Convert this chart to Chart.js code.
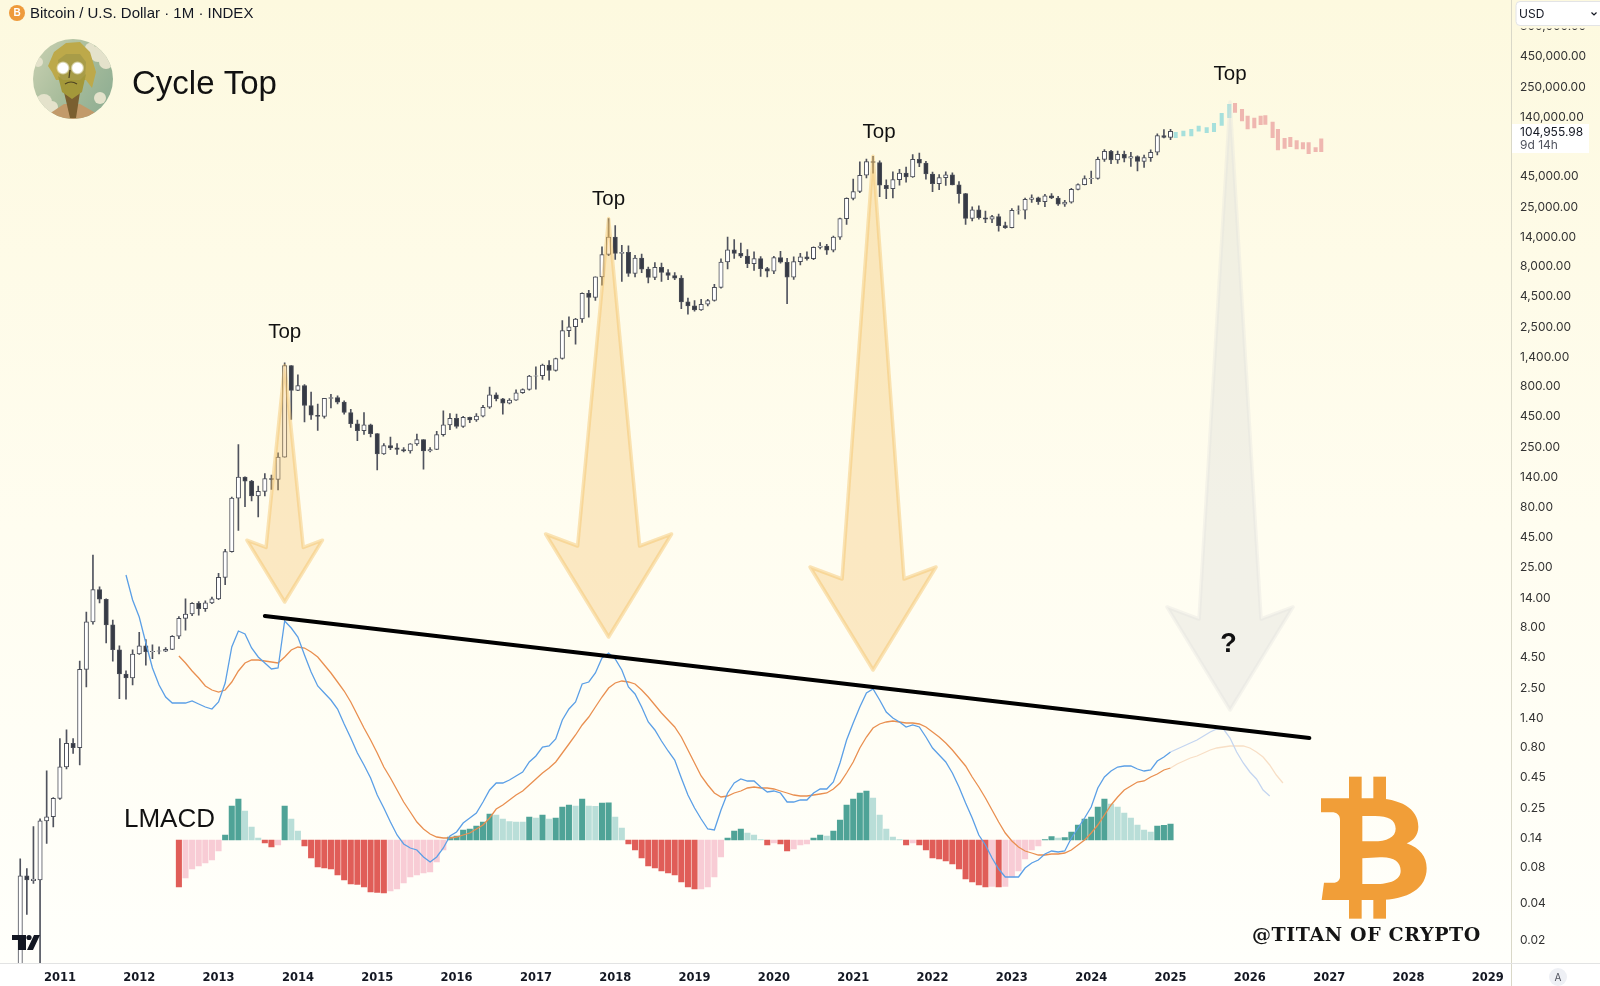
<!DOCTYPE html>
<html><head><meta charset="utf-8">
<style>html,body{margin:0;padding:0;background:#fff;overflow:hidden}canvas{display:block;position:absolute;left:0;top:0}</style>
<script src="https://cdn.jsdelivr.net/npm/chart.js@4/dist/chart.umd.min.js"></script>
</head><body>
<canvas id="c" width="1600" height="986"></canvas>
<script>
// ---- months ----
const firstYear = 2010, firstMonth = 5, monthCount = 228;
const months = [];
for (let i = 0; i < monthCount; i++) {
  const m = firstMonth - 1 + i;
  months.push((firstYear + Math.floor(m / 12)) + '-' + String(m % 12 + 1).padStart(2, '0'));
}
// ---- monthly candles, July 2010 to January 2025 ----
const candleStart = '2010-07';
const opens = [
 .008,.067,.061,.062,.192,.208,
 .296,.54,.85,.78,3.5,8.7,16.1,13.4,8.2,5.1,3.2,2.97,
 4.7,5.5,4.9,4.95,4.95,5.14,6.6,9.3,10.1,12.4,11.2,12.5,
 13.5,20.4,33.4,93,139,129,97,106,135,133,204,1180,
 732,802,549,455,446,628,640,585,480,387,338,378,
 320,217,254,244,236,230,263,285,230,236,314,378,
 430,368,437,416,448,531,673,624,575,608,700,745,
 963,970,1190,1075,1350,2300,2480,2875,4700,4340,6440,9900,
 13800,10100,10300,6900,9240,7490,6380,7730,7010,6620,6300,4000,
 3700,3430,3815,4100,5270,8570,10800,10100,9600,8300,9150,7550,
 7190,9350,8530,6420,8630,9450,9140,11350,11650,10780,13800,19700,
 29000,33100,45200,58800,57700,37300,35000,41500,47100,43800,61300,57000,
 46300,38500,43200,45500,37600,31800,19800,23300,20000,19500,20500,17200,
 16550,23100,23150,28500,29250,27200,30450,29200,26000,27000,34500,37700,
 42300,42600,61200,71300,60700,67500,62700,64600,58950,63300,70200,96400,
 93400];
const highs = [
 .093,.077,.172,.2,.5,.3,
 .93,1.1,.93,4.1,10.5,31.3,17,13.5,9,5.5,3.4,5.1,
 7.1,6.2,5.6,5.4,5.3,6.7,9.6,13.5,12.6,12.8,13,14,
 22,34.9,95,259,140,131,117,149,145,222,1240,1180,
 985,820,710,565,630,680,660,600,510,415,480,385,
 320,265,300,265,245,265,317,285,245,335,495,470,
 465,445,440,470,550,780,700,630,625,740,755,980,
 1150,1215,1295,1360,2790,3000,2920,4750,4980,6450,11450,19700,
 17200,11800,11700,9750,10000,7780,8480,8400,7400,7000,6600,4300,
 4100,4200,4200,5600,9100,13800,13200,12300,10900,10400,9500,7750,
 9580,10500,9200,9480,10100,10400,11450,12450,12050,14100,19900,29300,
 41950,58300,61700,64800,59600,41300,48200,50500,52900,67000,69000,59000,
 47900,45800,48200,47400,40000,31900,24700,25200,22700,21000,21500,18400,
 23900,25200,29200,31000,29800,31400,31800,30200,28000,35200,38400,44700,
 48900,63900,73800,72700,71900,71900,70000,65600,66500,73600,99800,108200,
 109000];
const lows = [
 .004,.032,.058,.008,.125,.171,
 .29,.52,.70,.56,2.5,8.3,12.5,5.8,4.1,2,1.98,2.6,
 4.65,3.8,4.3,4.7,4.9,5.1,6.3,7.4,9.8,9.9,10.6,12.3,
 13.3,17.7,33,50,79,88,65,97,110,109,204,420,
 730,400,420,340,430,525,565,465,360,280,315,300,
 160,215,235,215,225,220,255,162,225,235,305,345,
 355,360,395,405,440,520,600,465,565,605,690,735,
 750,905,890,1060,1330,2050,1780,2700,2980,4100,5500,9700,
 9000,5900,6500,6450,7000,5750,6100,5900,6100,6100,3500,3150,
 3350,3390,3700,4050,5200,7500,9200,9300,7700,7300,6500,6430,
 6850,8400,3850,6150,8100,8900,8980,11000,9900,10400,13200,17600,
 28100,32300,43000,47000,30000,28800,29300,37300,39600,43300,53300,42000,
 33000,34300,37200,37600,26500,17600,18800,19500,18200,18200,15500,16300,
 16500,21400,19600,26900,25800,24800,28900,25400,24900,26500,34100,37600,
 38500,42000,59000,56500,56600,58400,53500,49000,52600,58900,66800,92200,
 89500];
const closes = [
 .067,.062,.063,.192,.208,.296,
 .54,.85,.78,3.5,8.7,16.1,13.4,8.2,5.1,3.2,2.97,4.7,
 5.5,4.9,4.95,5.0,5.14,6.6,9.3,10.1,12.4,11.2,12.5,13.5,
 20.4,33.4,93,139,129,97,106,135,133,204,1180,732,
 802,549,455,446,628,640,585,480,387,338,378,320,
 217,254,244,236,230,263,285,230,236,314,378,430,
 368,437,416,448,531,673,624,575,608,700,745,963,
 970,1190,1075,1350,2300,2480,2875,4700,4340,6440,9900,13800,
 10100,10300,6900,9240,7490,6380,7730,7010,6620,6300,4000,3700,
 3430,3815,4100,5270,8570,10800,10100,9600,8300,9150,7550,7190,
 9350,8530,6420,8630,9450,9140,11350,11650,10780,13800,19700,29000,
 33100,45200,58800,57700,37300,35000,41500,47100,43800,61300,57000,46300,
 38500,43200,45500,37600,31800,19800,23300,20000,19500,20500,17200,16550,
 23100,23150,28500,29250,27200,30450,29200,26000,27000,34500,37700,42300,
 42600,61200,71300,60700,67500,62700,64600,58950,63300,70200,96400,93400,
 104955.98];
// ---- projected pattern, in decimal years ----
const riseYears = [2025.064,2025.161,2025.261,2025.354,2025.455,2025.547,2025.644,2025.740];
const riseLows  = [92900,95900,95900,105000,102100,104100,117500,136100];
const riseHighs = [102800,105400,108900,116100,112500,122100,147900,175900];
const fallYears = [2025.812,2025.900,2025.971,2026.055,2026.135,2026.194,2026.286,2026.353,2026.437,2026.509,2026.589,2026.668,2026.740,2026.828,2026.899];
const fallLows  = [150700,127700,109600,111700,119100,119900,92900,73300,75700,78200,74700,74700,68400,70900,70900];
const fallHighs = [179000,159700,140600,135200,140600,141600,125300,108900,91700,93400,87700,84300,84300,76600,90600];
// ---- LMACD ----
const lmacdStart = '2011-11', lmacdFadeFrom = '2025-01';
const lmacdLine = [
 2.65,2.40,2.23,1.97,1.72,1.55,1.43,1.37,1.37,1.37,1.39,1.36,
 1.33,1.31,1.38,1.57,1.93,2.09,2.06,1.92,1.83,1.77,1.71,1.72,
 2.19,2.12,2.03,1.85,1.68,1.54,1.47,1.40,1.31,1.16,1.02,.87,
 .75,.62,.45,.32,.18,.05,-.04,-.08,-.10,-.17,-.22,-.17,
 -.08,.04,.08,.17,.22,.27,.38,.50,.57,.57,.60,.64,
 .68,.78,.84,.93,.94,1.01,1.20,1.31,1.38,1.56,1.58,1.67,
 1.82,1.87,1.81,1.70,1.53,1.46,1.33,1.18,1.10,.99,.89,.80,
 .62,.45,.32,.21,.11,.10,.30,.47,.57,.61,.59,.59,
 .53,.48,.49,.47,.38,.38,.40,.40,.47,.51,.51,.58,
 .77,1.00,1.17,1.33,1.47,1.51,1.40,1.28,1.22,1.18,1.13,1.15,
 1.13,1.03,.92,.85,.78,.67,.53,.37,.22,.05,-.05,-.18,
 -.29,-.37,-.37,-.37,-.28,-.23,-.20,-.14,-.11,-.12,-.11,.02,
 .12,.22,.33,.52,.63,.69,.73,.74,.74,.71,.69,.70,
 .79,.83,.88,.91,.94,.97,1.0,1.04,1.08,1.11,1.11,1.02,
 .88,.77,.68,.61,.50,.44];
const signalStart = '2012-07';
const signalLine = [
 1.84,1.77,1.69,1.62,1.54,1.50,1.48,1.50,1.58,1.69,1.77,1.80,
 1.80,1.79,1.78,1.77,1.83,1.90,1.93,1.92,1.88,1.83,1.75,1.67,
 1.58,1.49,1.38,1.25,1.12,1.00,.87,.73,.62,.50,.38,.28,
 .18,.11,.06,.03,.02,.02,.03,.05,.07,.11,.15,.22,
 .31,.35,.40,.45,.49,.55,.61,.67,.72,.78,.87,.96,
 1.05,1.15,1.23,1.33,1.43,1.52,1.57,1.59,1.58,1.56,1.50,1.43,
 1.35,1.27,1.20,1.13,1.03,.90,.77,.64,.55,.47,.43,.44,
 .47,.49,.52,.53,.52,.52,.51,.49,.47,.45,.44,.44,
 .45,.46,.47,.51,.57,.67,.78,.92,1.03,1.12,1.16,1.18,
 1.19,1.18,1.17,1.17,1.16,1.13,1.08,1.03,.97,.90,.82,.74,
 .63,.53,.42,.30,.18,.07,-.01,-.07,-.11,-.13,-.15,-.15,
 -.14,-.14,-.13,-.10,-.05,0,.07,.15,.25,.35,.43,.50,
 .54,.58,.59,.63,.66,.70,.72,.76,.79,.82,.84,.87,
 .90,.92,.93,.94,.94,.94,.92,.88,.83,.75,.65,.57];
const histogram = [
 -.47,-.38,-.29,-.26,-.23,-.20,-.11,.05,.34,.41,.29,.13,
 .02,-.03,-.07,-.05,.34,.21,.09,-.06,-.18,-.27,-.28,-.29,
 -.35,-.40,-.44,-.445,-.47,-.52,-.525,-.53,-.51,-.49,-.43,-.37,
 -.35,-.33,-.32,-.22,-.10,.03,.04,.10,.11,.14,.18,.26,
 .25,.21,.185,.18,.178,.23,.22,.25,.21,.22,.33,.35,
 .34,.41,.34,.337,.37,.372,.23,.12,-.04,-.10,-.18,-.26,
 -.28,-.31,-.33,-.35,-.42,-.47,-.49,-.488,-.47,-.37,-.17,.02,
 .09,.11,.07,.05,.005,-.05,-.03,-.04,-.11,-.09,-.05,-.04,
 .02,.05,.04,.09,.20,.35,.41,.47,.49,.42,.25,.11,
 .03,.003,-.05,-.03,-.05,-.10,-.18,-.19,-.21,-.24,-.29,-.39,
 -.42,-.45,-.47,-.465,-.47,-.465,-.37,-.31,-.19,-.10,-.06,.005,
 .035,.02,.025,.08,.15,.21,.23,.33,.41,.36,.33,.27,
 .22,.15,.10,.08,.14,.147,.16];
// ---- trend line and annotations ----
const trendMonths = ['2013-08','2026-10'];
const trendValues = [2.24,1.02];
const topMonths = ['2013-11','2017-12','2021-04','2025-10'];
const topPrices = [1180,19700,65000,183600];
const tipLevels = [2.38,2.03,1.70,1.30];
const priceTicks = [0.02,.04,.08,.14,.25,.45,.8,1.4,2.5,4.5,8,14,25,45,80,140,250,450,800,1400,2500,4500,8000,14000,25000,45000,140000,250000,450000,800000];
const lastPrice = '104,955.98', lastCountdown = '9d 14h';

const idx = m => months.indexOf(m);
function place(values, start){ const a = new Array(monthCount).fill(null); values.forEach((v,i)=>{a[idx(start)+i]=v;}); return a; }
const bodies = place(opens.map((o,i)=>[o,closes[i]]), candleStart);
const wicks  = place(lows.map((l,i)=>[l,highs[i]]), candleStart);
const candleColors = place(opens.map((o,i)=>closes[i]>=o?'#ffffff':'#363a45'), candleStart);
const histColors = histogram.map((v,i)=>{
  const p = i? histogram[i-1] : 0;
  if (v>=0) return v>=p ? '#4fa397' : '#b9ded8';
  return v<p ? '#e05d58' : '#f8ccd5';
});
const trend = new Array(monthCount).fill(null);
trendMonths.forEach((m,i)=>{trend[idx(m)]=trendValues[i];});
const fade = idx(lmacdFadeFrom);

const decor = {
  id:'decor',
  beforeDraw(ch){
    const c=ch.ctx, g=c.createLinearGradient(0,0,0,963);
    g.addColorStop(0,'#fdf9df'); g.addColorStop(.55,'#fffdf0'); g.addColorStop(1,'#fffffb');
    c.save(); c.fillStyle='#ffffff'; c.fillRect(0,0,1600,986);
    c.fillStyle=g; c.fillRect(0,0,1600,963); c.restore();
  },
  afterDatasetsDraw(ch){
    const c=ch.ctx, X=ch.scales.x, P=ch.scales.y, M=ch.scales.macd;
    const scale=[.6,1,1,1];
    topMonths.forEach((m,i)=>{
      const x=X.getPixelForValue(idx(m)), a=P.getPixelForValue(topPrices[i]), t=M.getPixelForValue(tipLevels[i]), s=scale[i];
      c.save(); c.beginPath();
      c.moveTo(x,a); c.lineTo(x+31*s,t-91*s); c.lineTo(x+63*s,t-103*s); c.lineTo(x,t); c.lineTo(x-63*s,t-103*s); c.lineTo(x-31*s,t-91*s); c.closePath();
      c.lineJoin='round'; c.lineWidth=3.5;
      const last=i===3;
      c.fillStyle= last?'rgba(225,225,220,.42)':'rgba(244,190,95,.32)';
      c.strokeStyle= last?'rgba(225,225,220,.32)':'rgba(244,190,95,.42)';
      c.fill(); c.stroke(); c.restore();
    });
  },
  afterDraw(ch){
    const c=ch.ctx, X=ch.scales.x;
    c.save();
    // right axis line
    c.fillStyle='#d9d8c8'; c.fillRect(1511,0,1,986);
    // bottom axis line
    c.fillStyle='#e2e3e3'; c.fillRect(0,963,1600,1);
    c.textBaseline='middle';
    // Top labels
    c.fillStyle='#111'; c.font="20.5px 'Liberation Sans'"; c.textAlign='center';
    topMonths.forEach((m,i)=>{ c.fillText('Top', X.getPixelForValue(idx(m)) + [0,0,6,0][i], [332,199.5,132.5,74][i]); });
    c.font="bold 27px 'Liberation Sans'"; c.fillText('?',1228.5,645);
    // header
    c.textAlign='left';
    c.fillStyle='#131722'; c.font="15px 'Liberation Sans'"; c.fillText('Bitcoin / U.S. Dollar · 1M · INDEX',30,14);
    c.fillStyle='#ee9a3b'; c.beginPath(); c.arc(17,13,8,0,7); c.fill();
    c.fillStyle='#fff'; c.font="bold 10px 'Liberation Sans'"; c.textAlign='center'; c.fillText('B',17,13.5); c.textAlign='left';
    // title
    c.fillStyle='#111'; c.font="33px 'Liberation Sans'"; c.fillText('Cycle Top',132,85);
    c.font="26px 'Liberation Sans'"; c.fillText('LMACD',124,820);
    // watermark
    c.fillStyle='#141414'; c.font="bold 19px 'DejaVu Serif'"; try{c.letterSpacing='0.6px';}catch(e){}
    c.fillText('@TITAN OF CRYPTO',1252,936); try{c.letterSpacing='0px';}catch(e){}
    drawAvatar(c); drawCoin(c); drawMark(c);
    // USD selector, with the clear band that hides most of the tick above the first full label
    c.fillStyle='#fdf9e1'; c.fillRect(1512,20,88,8.5);
    c.fillStyle='#fff'; c.strokeStyle='#e3e4e6'; c.lineWidth=1; c.beginPath(); c.roundRect(1516,1.5,90,24,4); c.fill(); c.stroke();
    c.fillStyle='#131722'; c.font="12px Inter"; c.fillText('USD',1519,14);
    c.strokeStyle='#131722'; c.lineWidth=1.2; c.beginPath(); c.moveTo(1591.5,12.5); c.lineTo(1594,15); c.lineTo(1596.5,12.5); c.stroke();
    // last price tag
    c.fillStyle='#fff'; c.fillRect(1512,124,77,29);
    c.fillStyle='#131722'; c.font="12px Inter"; c.fillText(lastPrice,1520,132);
    c.fillStyle='#50535e'; c.fillText(lastCountdown,1520,145);
    // auto scale button
    c.fillStyle='#eef0f5'; c.beginPath(); c.arc(1558,977,9,0,7); c.fill();
    c.fillStyle='#50535e'; c.font="10px Inter"; c.textAlign='center'; c.fillText('A',1558,977.5);
    c.restore();
  }
};
function drawAvatar(c){
  c.save(); c.beginPath(); c.arc(73,79,40,0,7); c.clip();
  const s=c.createLinearGradient(33,50,113,100); s.addColorStop(0,'#c6cfb0'); s.addColorStop(.5,'#a9bd9c'); s.addColorStop(1,'#8fae93');
  c.fillStyle=s; c.fillRect(33,39,80,80);
  c.fillStyle='#e4e2cb';
  [[98,54,8],[106,62,7],[44,102,8],[52,107,6],[90,48,5],[38,62,5],[100,98,6]].forEach(b=>{c.beginPath();c.arc(b[0],b[1],b[2],0,7);c.fill();});
  c.fillStyle='#c29a6a'; c.beginPath(); c.moveTo(46,119); c.lineTo(52,112); c.lineTo(64,104); c.lineTo(80,104); c.lineTo(94,112); c.lineTo(100,119); c.closePath(); c.fill();
  c.fillStyle='#7a5f30'; c.beginPath(); c.moveTo(64,92); c.lineTo(80,92); c.lineTo(76,118); c.lineTo(70,118); c.closePath(); c.fill();
  c.fillStyle='#bda94a'; c.beginPath(); c.moveTo(48,66); c.lineTo(54,52); c.lineTo(66,43); c.lineTo(80,42); c.lineTo(90,52); c.lineTo(96,72); c.lineTo(92,88); c.lineTo(86,80); c.lineTo(56,80); c.lineTo(52,72); c.closePath(); c.fill();
  c.fillStyle='#a89c48'; c.beginPath(); c.moveTo(58,60); c.lineTo(66,54); c.lineTo(80,54); c.lineTo(86,62); c.lineTo(85,80); c.lineTo(60,80); c.closePath(); c.fill();
  c.fillStyle='#a3983a'; c.beginPath(); c.moveTo(58,76); c.lineTo(63,80); c.lineTo(80,80); c.lineTo(86,74); c.lineTo(82,92); c.lineTo(72,99); c.lineTo(62,92); c.closePath(); c.fill();
  c.strokeStyle='#4e4422'; c.lineWidth=1.2; c.beginPath(); c.moveTo(65,84); c.quadraticCurveTo(71,80,77,84); c.stroke();
  c.beginPath(); c.moveTo(70,70); c.lineTo(69,78); c.stroke();
  [[63,68],[77.5,68]].forEach(e=>{
    const g=c.createRadialGradient(e[0],e[1],1.5,e[0],e[1],7); g.addColorStop(0,'#fff'); g.addColorStop(.6,'#fff'); g.addColorStop(1,'rgba(255,255,240,0)');
    c.fillStyle=g; c.beginPath(); c.arc(e[0],e[1],7,0,7); c.fill();
  });
  c.restore();
}
function drawCoin(c){
  const u=v=>950+v/3, w=v=>680+v/3;
  c.save(); c.fillStyle='#f19e38';
  [[1197,290,38,70],[1270,290,38,70],[1197,655,38,61],[1270,655,38,61]].forEach(r=>c.fillRect(u(r[0]),w(r[1]),r[2]/3,r[3]/3));
  const L=(x,y)=>c.lineTo(u(x),w(y)), B=(a,b,d,e,f,g)=>c.bezierCurveTo(u(a),w(b),u(d),w(e),u(f),w(g)), M=(x,y)=>c.moveTo(u(x),w(y));
  c.beginPath();
  M(1113,355); L(1270,355); B(1350,355,1405,385,1405,440); B(1405,465,1390,482,1370,490); B(1410,505,1430,530,1430,565); B(1430,625,1375,660,1285,660); L(1115,660); L(1122,608); L(1150,608); B(1162,608,1170,600,1170,590); L(1170,420); B(1170,405,1160,397,1145,397); L(1113,397); c.closePath();
  M(1237,408); L(1275,408); B(1315,408,1337,420,1337,446); B(1337,472,1310,484,1270,484); L(1237,484); c.closePath();
  M(1237,535); L(1290,532); B(1330,530,1352,545,1352,572); B(1352,600,1320,612,1275,612); L(1237,612); c.closePath();
  c.fill('evenodd'); c.restore();
}
function drawMark(c){
  c.save(); c.fillStyle='#131722';
  c.fillRect(12,935,14,5); c.fillRect(18,935,8,15);
  c.beginPath(); c.arc(29,937.5,2.6,0,7); c.fill();
  c.beginPath(); c.moveTo(34,935); c.lineTo(40,935); c.lineTo(33,950); c.lineTo(27,950); c.closePath(); c.fill();
  c.restore();
}
const noMargins = s => { s.paddingTop=0; s.paddingBottom=0; s.paddingLeft=0; s.paddingRight=0; };
new Chart(document.getElementById('c'),{
  data:{ labels:months, datasets:[
    {type:'bar',data:wicks,yAxisID:'y',xAxisID:'x',grouped:false,barThickness:1,backgroundColor:'#50535e',borderWidth:0,order:6},
    {type:'bar',data:bodies,yAxisID:'y',xAxisID:'x',grouped:false,barThickness:4.4,backgroundColor:candleColors,borderColor:'#4a4d57',borderWidth:1,borderSkipped:false,order:5},
    {type:'bar',data:riseYears.map((x,i)=>({x,y:[riseLows[i],riseHighs[i]]})),yAxisID:'y',xAxisID:'xYears',grouped:false,barThickness:3.4,backgroundColor:'#a6e0dc',borderWidth:0,order:5},
    {type:'bar',data:fallYears.map((x,i)=>({x,y:[fallLows[i],fallHighs[i]]})),yAxisID:'y',xAxisID:'xYears',grouped:false,barThickness:3.4,backgroundColor:'#efb7b0',borderWidth:0,order:5},
    {type:'bar',data:place(histogram,signalStart),yAxisID:'macd',xAxisID:'x',grouped:false,barThickness:5.4,backgroundColor:place(histColors,signalStart),borderWidth:0,order:4},
    {type:'line',data:place(signalLine,signalStart),yAxisID:'macd',xAxisID:'x',borderColor:'#e98f50',borderWidth:1.3,pointRadius:0,tension:0,
      segment:{borderColor:s=>s.p0DataIndex>=fade?'#f8dfc6':undefined},order:3},
    {type:'line',data:place(lmacdLine,lmacdStart),yAxisID:'macd',xAxisID:'x',borderColor:'#5b9fe6',borderWidth:1.3,pointRadius:0,tension:0,
      segment:{borderColor:s=>s.p0DataIndex>=fade?'#c4d5f0':undefined},order:2},
    {type:'line',data:trend,yAxisID:'macd',xAxisID:'x',spanGaps:true,borderColor:'#000',borderWidth:4,borderCapStyle:'round',pointRadius:0,tension:0,order:1}
  ]},
  options:{
    responsive:false, animation:false, devicePixelRatio:1,
    layout:{padding:{left:3.7,right:0,top:0,bottom:0}},
    plugins:{legend:{display:false},tooltip:{enabled:false},title:{display:false}},
    events:[],
    scales:{
      x:{type:'category',offset:true,position:'bottom',grid:{display:false,drawTicks:false},border:{display:false},
        afterFit(s){s.height=23;noMargins(s);},
        ticks:{autoSkip:false,maxRotation:0,minRotation:0,padding:8,color:'#131722',font:{family:"'DejaVu Sans'",size:11.5,weight:'bold'},
          callback(v){const l=this.getLabelForValue(v);return l.endsWith('-01')?l.slice(0,4):'';}}},
      xYears:{type:'linear',display:false,min:2010.29,max:2029.291,offset:false},
      y:{type:'logarithmic',position:'right',bounds:'data',min:0.01262,max:1297000,grid:{display:false,drawTicks:false},border:{display:false},
        afterFit(s){s.width=89;noMargins(s);},
        afterBuildTicks(s){s.ticks=priceTicks.map(value=>({value}));},
        ticks:{autoSkip:false,padding:9,labelOffset:1,color:'#333',font:{family:'Inter',size:12},
          callback(v){return Number(v).toLocaleString('en-US',{minimumFractionDigits:2,maximumFractionDigits:2});}}},
      macd:{type:'linear',display:false,min:-1.23,max:8.40}
    }
  },
  plugins:[decor]
});
</script>
</body></html>
